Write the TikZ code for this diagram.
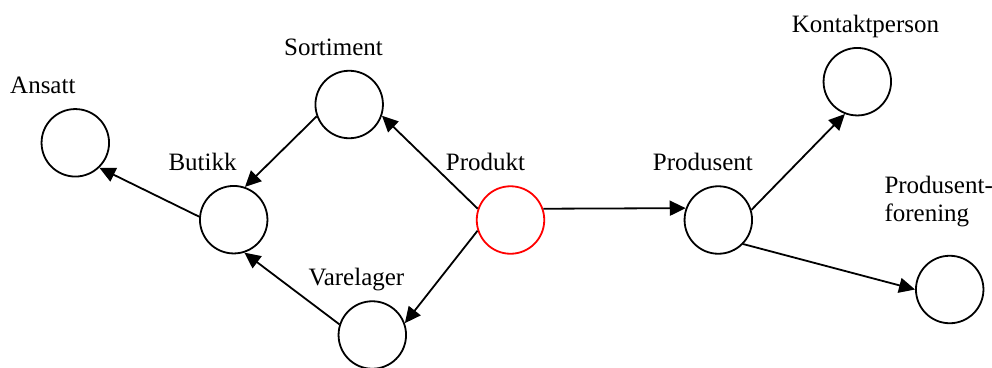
\documentclass[tikz,border=0pt]{standalone}
\usepackage{fontspec}
\setmainfont{Liberation Serif}
\usetikzlibrary{arrows.meta}
\begin{document}
\begin{tikzpicture}[x=1pt,y=-1pt,
  ent/.style={circle,draw=black,line width=1.8pt,minimum size=67.5pt,inner sep=0pt},
  lbl/.style={anchor=base west,inner sep=0pt,font=\fontsize{25}{28.4}\selectfont},
  conn/.style={line width=1.8pt,-{Triangle[length=16pt,width=15pt]}}]
\useasboundingbox (0,0) rectangle (992,367);
\node[ent] (ansatt) at (75.3,142.8) {};
\node[ent] (butikk) at (233.7,219.7) {};
\node[ent] (sortiment) at (349.2,104.5) {};
\node[ent] (varelager) at (372.3,335) {};
\node[ent,draw=red] (produkt) at (510.5,220) {};
\node[ent] (produsent) at (718.3,220) {};
\node[ent] (kontakt) at (857.3,81.7) {};
\node[ent] (forening) at (949.7,289.5) {};
\node[lbl] (lansatt) at (10,93) {Ansatt};
\node[lbl] (lsortiment) at (284,55) {Sortiment};
\node[lbl] (lbutikk) at (168.3,170) {Butikk};
\node[lbl] (lprodukt) at (445.7,170) {Produkt};
\node[lbl] (lvarelager) at (308.3,285.7) {Varelager};
\node[lbl] (lprodusent) at (652.7,170) {Produsent};
\node[lbl] (lkontakt) at (791.7,32.3) {Kontaktperson};
\node[lbl] (lforening1) at (884.3,193.3) {Produsent-};
\node[lbl] (lforening2) at (884.3,221.7) {forening};
\draw[conn] (butikk.175) -- (ansatt.-46);
\draw[conn] (sortiment.-160) -- (butikk.71);
\draw[conn] (varelager.162) -- (butikk.-72.7);
\draw[conn] (produkt.161) -- (sortiment.-19);
\draw[conn] (produkt.-162) -- (varelager.20.6);
\draw[conn] (produkt.19.7) -- (produsent.160.5);
\draw[conn] (produsent.17) -- (kontakt.-111);
\draw[conn] (produsent.-44) -- (forening.180);
\end{tikzpicture}
\end{document}
